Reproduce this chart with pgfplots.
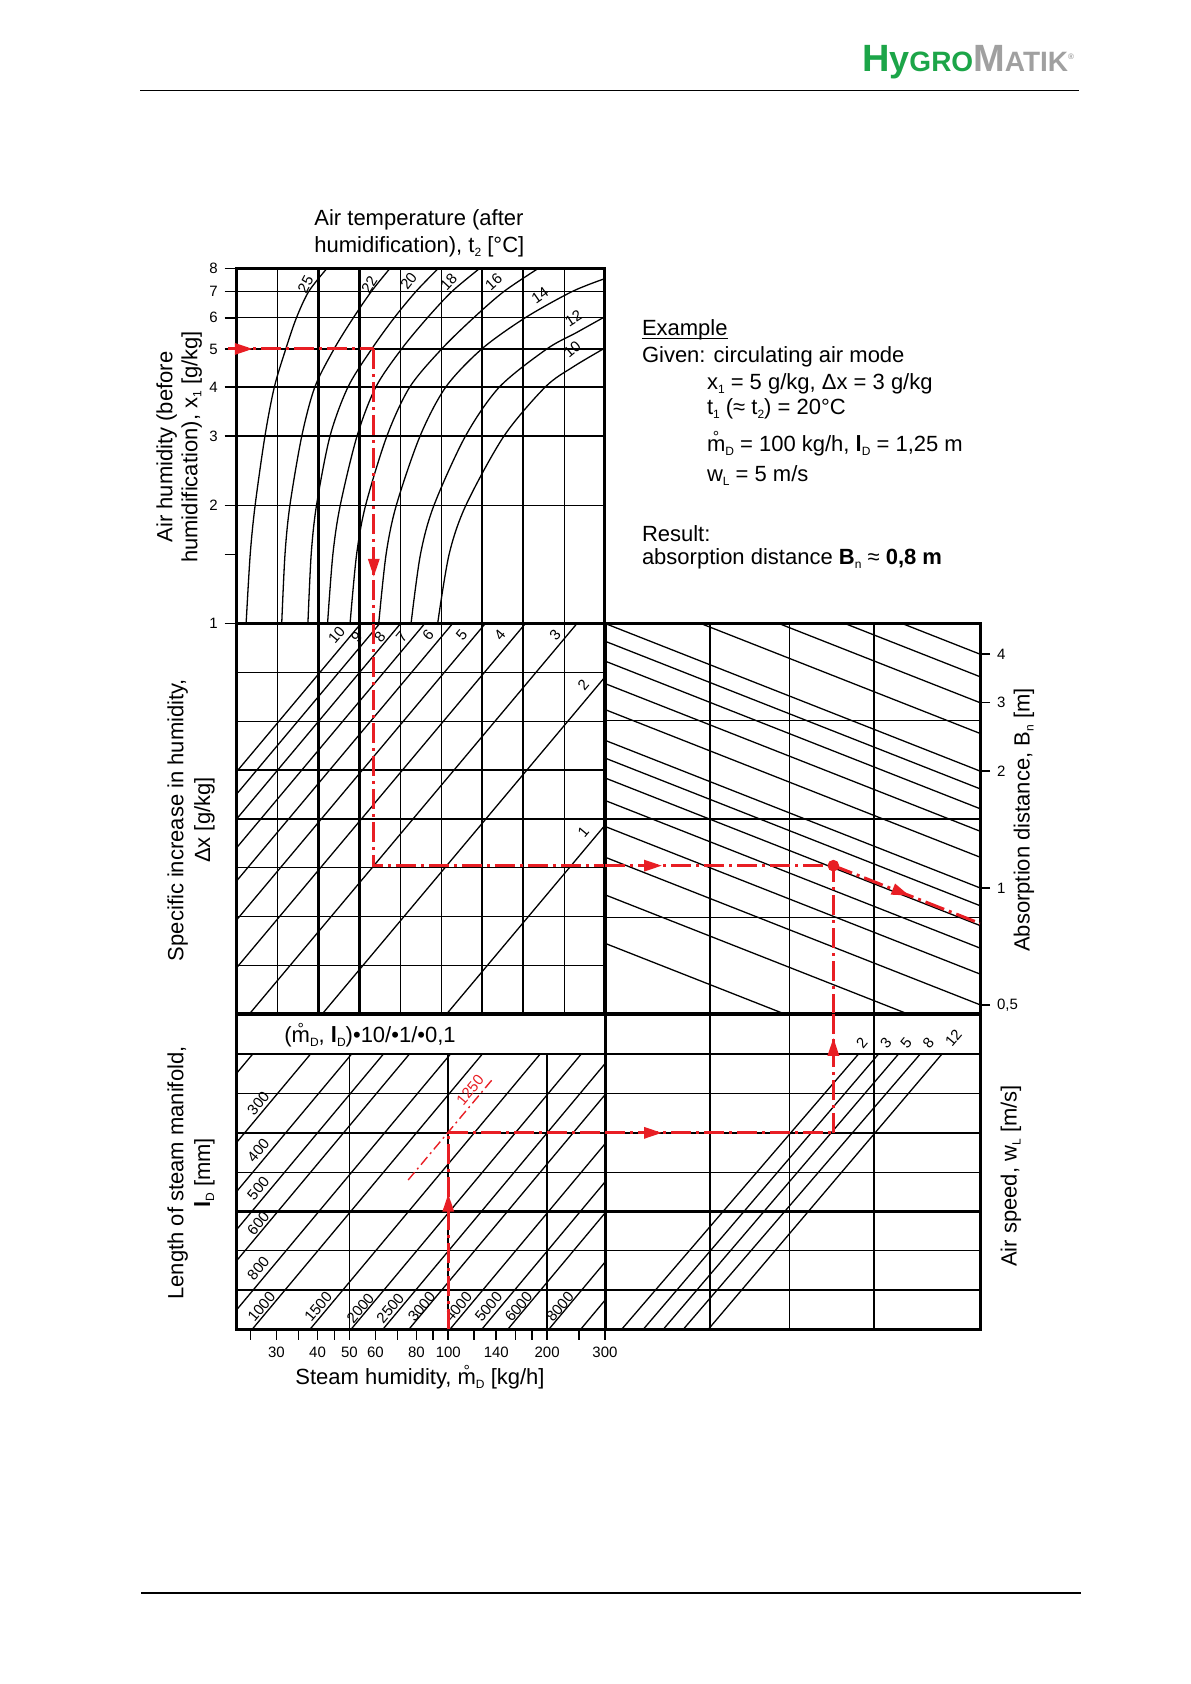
\documentclass[border=0pt]{standalone}
\usepackage{fontspec}
\setmainfont{Liberation Sans}
\usepackage{pgfplots}
\pgfplotsset{compat=1.18}
\usetikzlibrary{arrows.meta,decorations.markings}

\definecolor{nomred}{RGB}{232,30,36}
\definecolor{hgreen}{RGB}{28,165,72}
\definecolor{hgray}{RGB}{160,160,160}

\newcommand{\tickfont}{\fontsize{7.5}{9}\selectfont}
\newcommand{\labfont}{\fontsize{11}{13.4}\selectfont}
\newcommand{\sub}[1]{\raisebox{-2pt}{\fontsize{6}{6}\selectfont #1}}
\newcommand{\mring}{\ooalign{m\cr\hidewidth\raisebox{4.2pt}{\fontsize{8}{8}\selectfont °}\hidewidth\cr}}
\newcommand{\myul}[1]{\setbox0\hbox{#1}\rlap{\rule[-1.4pt]{\wd0}{0.6pt}}\box0}

\pgfplotsset{
  panel/.style={scale only axis, anchor=south west,
    axis line style={line width=1.5pt},
    xtick=\empty, ytick=\empty,
    tick style={line width=0.8pt, black},
    tick align=outside,
    ticklabel style={font=\tickfont}},
  gthin/.style={black, line width=0.5pt},
  gthick/.style={black, line width=1.1pt},
  iso/.style={black, line width=0.65pt},
  rpath/.style={nomred, line width=1.5pt, dash pattern=on 10pt off 2.5pt on 1.5pt off 2.5pt},
}
\tikzset{rarrow/.style={postaction={decorate},
  decoration={markings, mark=at position #1 with {\arrow{Triangle[length=9pt,width=5.5pt]}}}}}

\begin{document}
\begin{tikzpicture}
\path[use as bounding box] (0,0) rectangle (595pt,842pt);

% header and footer
\draw[line width=0.6pt] (70pt,796.8pt) -- (539.5pt,796.8pt);
\node[anchor=base west, inner sep=0] at (430.8pt,806.2pt) {\bfseries
  \color{hgreen}\fontsize{19}{19}\selectfont H\fontsize{18}{18}\selectfont y\fontsize{14}{14}\selectfont GRO%
  \color{hgray}\fontsize{19}{19}\selectfont M\fontsize{14}{14}\selectfont ATIK%
  \raisebox{6pt}{\fontsize{4}{4}\selectfont ®}};
\draw[line width=0.6pt] (70.5pt,45.5pt) -- (540.5pt,45.5pt);

% ---------- top left: x1 against t2 ----------
\begin{axis}[panel, at={(118.35pt,530.15pt)}, width=184.15pt, height=177.5pt,
  xmin=0, xmax=9, ymode=log, ymin=1, ymax=8, clip=false,
  ytick={1,1.5,2,3,4,5,6,7,8}, yticklabels={1,,2,3,4,5,6,7,8},
  ytick pos=left, major tick length=6pt]
\addplot[gthin] coordinates {(1,1)(1,8)};
\addplot[gthick] coordinates {(2,1)(2,8)};
\addplot[gthick] coordinates {(3,1)(3,8)};
\addplot[gthin] coordinates {(4,1)(4,8)};
\addplot[gthin] coordinates {(5,1)(5,8)};
\addplot[gthick] coordinates {(6,1)(6,8)};
\addplot[gthick] coordinates {(7,1)(7,8)};
\addplot[gthin] coordinates {(8,1)(8,8)};
\addplot[gthin] coordinates {(0,2)(9,2)};
\addplot[gthick] coordinates {(0,3)(9,3)};
\addplot[gthick] coordinates {(0,4)(9,4)};
\addplot[gthick] coordinates {(0,5)(9,5)};
\addplot[gthin] coordinates {(0,6)(9,6)};
\addplot[gthin] coordinates {(0,7)(9,7)};
% t2 curves
\addplot[iso, smooth] coordinates {(0.23,1)(0.33,1.5)(0.45,2)(0.69,3)(0.92,4)(1.2,5)(1.46,6)(1.76,7)(2.2,8)};
\addplot[iso, smooth] coordinates {(1.10,1)(1.18,1.5)(1.30,2)(1.59,3)(1.91,4)(2.38,5)(2.85,6)(3.29,7)(3.74,8)};
\addplot[iso, smooth] coordinates {(1.74,1)(1.82,1.5)(1.95,2)(2.28,3)(2.72,4)(3.30,5)(3.85,6)(4.38,7)(4.92,8)};
\addplot[iso, smooth] coordinates {(2.22,1)(2.35,1.5)(2.53,2)(2.94,3)(3.40,4)(4.03,5)(4.66,6)(5.26,7)(5.93,8)};
\addplot[iso, smooth] coordinates {(2.77,1)(2.93,1.5)(3.15,2)(3.67,3)(4.23,4)(5.01,5)(5.79,6)(6.53,7)(7.36,8)};
\addplot[iso, smooth] coordinates {(3.47,1)(3.65,1.5)(3.90,2)(4.48,3)(5.11,4)(5.99,5)(7.05,6)(8.2,7)(9.0,7.55)};
\addplot[iso, smooth] coordinates {(4.26,1)(4.49,1.5)(4.82,2)(5.59,3)(6.42,4)(7.58,5)(8.3,5.5)(9.0,6.04)};
\addplot[iso, smooth] coordinates {(4.91,1)(5.19,1.5)(5.60,2)(6.53,3)(7.54,4)(8.22,4.5)(8.96,5)};
\node[rotate=62, font=\tickfont, inner sep=0] at (axis cs:1.68,7.30) {25};
\node[rotate=58, font=\tickfont, inner sep=0] at (axis cs:3.24,7.30) {22};
\node[rotate=52, font=\tickfont, inner sep=0] at (axis cs:4.20,7.45) {20};
\node[rotate=47, font=\tickfont, inner sep=0] at (axis cs:5.18,7.41) {18};
\node[rotate=42, font=\tickfont, inner sep=0] at (axis cs:6.28,7.41) {16};
\node[rotate=35, font=\tickfont, inner sep=0] at (axis cs:7.41,6.85) {14};
\node[rotate=33, font=\tickfont, inner sep=0] at (axis cs:8.23,5.98) {12};
\node[rotate=40, font=\tickfont, inner sep=0] at (axis cs:8.20,4.98) {10};
% example path
\addplot[rpath, rarrow=0.17] coordinates {(-0.21,5)(3.35,5)};
\addplot[rpath, rarrow=0.83] coordinates {(3.35,5)(3.35,1)};
\end{axis}

% ---------- middle left: delta x ----------
\begin{axis}[panel, at={(118.35pt,335pt)}, width=184.15pt, height=195.1pt,
  xmin=0, xmax=9, ymin=0, ymax=8]
\addplot[gthin] coordinates {(1,0)(1,8)};
\addplot[gthick] coordinates {(2,0)(2,8)};
\addplot[gthick] coordinates {(3,0)(3,8)};
\addplot[gthin] coordinates {(4,0)(4,8)};
\addplot[gthin] coordinates {(5,0)(5,8)};
\addplot[gthick] coordinates {(6,0)(6,8)};
\addplot[gthick] coordinates {(7,0)(7,8)};
\addplot[gthin] coordinates {(8,0)(8,8)};
\addplot[gthin] coordinates {(0,1)(9,1)};
\addplot[gthin] coordinates {(0,2)(9,2)};
\addplot[gthin] coordinates {(0,3)(9,3)};
\addplot[gthick] coordinates {(0,4)(9,4)};
\addplot[gthick] coordinates {(0,5)(9,5)};
\addplot[gthin] coordinates {(0,6)(9,6)};
\addplot[gthin] coordinates {(0,7)(9,7)};
\addplot[iso] coordinates {(5.13,0)(9,3.87)};
\addplot[iso] coordinates {(2.09,0)(9,6.91)};
\addplot[iso] coordinates {(0.31,0)(8.31,8)};
\addplot[iso] coordinates {(0,0.95)(7.05,8)};
\addplot[iso] coordinates {(0,1.93)(6.07,8)};
\addplot[iso] coordinates {(0,2.73)(5.27,8)};
\addplot[iso] coordinates {(0,3.41)(4.59,8)};
\addplot[iso] coordinates {(0,4.00)(4.00,8)};
\addplot[iso] coordinates {(0,4.51)(3.49,8)};
\addplot[iso] coordinates {(0,4.97)(3.03,8)};
\node[rotate=50, font=\tickfont, inner sep=0] at (axis cs:2.44,7.77) {10};
\node[rotate=50, font=\tickfont, inner sep=0] at (axis cs:2.93,7.73) {9};
\node[rotate=50, font=\tickfont, inner sep=0] at (axis cs:3.50,7.73) {8};
\node[rotate=50, font=\tickfont, inner sep=0] at (axis cs:4.03,7.73) {7};
\node[rotate=50, font=\tickfont, inner sep=0] at (axis cs:4.68,7.77) {6};
\node[rotate=50, font=\tickfont, inner sep=0] at (axis cs:5.50,7.77) {5};
\node[rotate=50, font=\tickfont, inner sep=0] at (axis cs:6.43,7.77) {4};
\node[rotate=50, font=\tickfont, inner sep=0] at (axis cs:7.78,7.77) {3};
\node[rotate=50, font=\tickfont, inner sep=0] at (axis cs:8.47,6.74) {2};
\node[rotate=50, font=\tickfont, inner sep=0] at (axis cs:8.47,3.74) {1};
\addplot[rpath] coordinates {(3.35,8)(3.35,3.04)(9,3.04)};
\end{axis}

% ---------- middle right: absorption distance ----------
\begin{axis}[panel, at={(302.5pt,335pt)}, width=187.5pt, height=195.1pt,
  xmin=0, xmax=10, ymode=log, ymin=0.4734, ymax=4.79,
  ytick={0.5,1,2,3,4}, yticklabels={{0,5},1,2,3,4},
  ytick pos=right, major tick length=5pt]
\addplot[gthick] coordinates {(2.8,0.4734)(2.8,4.79)};
\addplot[gthin] coordinates {(4.93,0.4734)(4.93,4.79)};
\addplot[gthick] coordinates {(7.17,0.4734)(7.17,4.79)};
\addplot[gthin] coordinates {(0,2.703)(10,2.703)};
\addplot[gthick] coordinates {(0,1.505)(10,1.505)};
\addplot[gthin] coordinates {(0,0.8366)(10,0.8366)};
\addplot[iso] coordinates {(0,0.72)(10,0.3)};
\addplot[iso] coordinates {(0,0.96)(10,0.4)};
\addplot[iso] coordinates {(0,1.2)(10,0.5)};
\addplot[iso] coordinates {(0,1.44)(10,0.6)};
\addplot[iso] coordinates {(0,1.68)(10,0.7)};
\addplot[iso] coordinates {(0,1.92)(10,0.8)};
\addplot[iso] coordinates {(0,2.16)(10,0.9)};
\addplot[iso] coordinates {(0,2.4)(10,1.0)};
\addplot[iso] coordinates {(0,2.88)(10,1.2)};
\addplot[iso] coordinates {(0,3.36)(10,1.4)};
\addplot[iso] coordinates {(0,3.84)(10,1.6)};
\addplot[iso] coordinates {(0,4.32)(10,1.8)};
\addplot[iso] coordinates {(0,4.8)(10,2.0)};
\addplot[iso] coordinates {(0,6.0)(10,2.5)};
\addplot[iso] coordinates {(0,7.2)(10,3.0)};
\addplot[iso] coordinates {(0,8.4)(10,3.5)};
\addplot[iso] coordinates {(0,9.6)(10,4.0)};
\addplot[rpath, rarrow=0.25] coordinates {(0,1.141)(6.09,1.141)};
\addplot[rpath, rarrow=0.52] coordinates {(6.09,1.141)(10,0.810)};
\addplot[rpath] coordinates {(6.09,0.4734)(6.09,1.141)};
\addplot[only marks, mark=*, mark size=2.7pt, nomred] coordinates {(6.09,1.141)};
\end{axis}

% ---------- bottom left: steam manifold ----------
\begin{axis}[panel, at={(118.35pt,177.35pt)}, width=184.15pt, height=157.65pt,
  xmode=log, xmin=22.7, xmax=300, ymin=0, ymax=8.025,
  xtick={25,30,35,40,45,50,60,70,80,90,100,120,140,160,180,200,250,300},
  xticklabels={,30,,40,,50,60,,80,,100,,140,,,200,,300},
  xtick pos=left, major tick length=5.3pt]
\addplot[gthin] coordinates {(50,0)(50,7)};
\addplot[gthick] coordinates {(100,0)(100,7)};
\addplot[gthick] coordinates {(200,0)(200,7)};
\addplot[gthick] coordinates {(22.7,1)(300,1)};
\addplot[gthin] coordinates {(22.7,2)(300,2)};
\addplot[gthick] coordinates {(22.7,3)(300,3)};
\addplot[gthin] coordinates {(22.7,4)(300,4)};
\addplot[gthick] coordinates {(22.7,5)(300,5)};
\addplot[gthin] coordinates {(22.7,6)(300,6)};
\addplot[gthick] coordinates {(22.7,7)(300,7)};
\addplot[iso] coordinates {(5.06,0)(25.36,7)};
\addplot[iso] coordinates {(7.59,0)(38.04,7)};
\addplot[iso] coordinates {(10.12,0)(50.72,7)};
\addplot[iso] coordinates {(12.65,0)(63.4,7)};
\addplot[iso] coordinates {(15.18,0)(76.08,7)};
\addplot[iso] coordinates {(20.24,0)(101.44,7)};
\addplot[iso] coordinates {(25.3,0)(126.8,7)};
\addplot[iso] coordinates {(37.95,0)(190.2,7)};
\addplot[iso] coordinates {(50.6,0)(253.6,7)};
\addplot[iso] coordinates {(63.25,0)(317,7)};
\addplot[iso] coordinates {(75.9,0)(380.4,7)};
\addplot[iso] coordinates {(101.2,0)(507.2,7)};
\addplot[iso] coordinates {(126.5,0)(634,7)};
\addplot[iso] coordinates {(151.8,0)(760.8,7)};
\addplot[iso] coordinates {(202.4,0)(1014.4,7)};
\addplot[iso] coordinates {(253,0)(1268,7)};
\node[rotate=50, font=\tickfont, inner sep=0] at (axis cs:26.4,5.75) {300};
\node[rotate=50, font=\tickfont, inner sep=0] at (axis cs:26.4,4.56) {400};
\node[rotate=50, font=\tickfont, inner sep=0] at (axis cs:26.4,3.59) {500};
\node[rotate=50, font=\tickfont, inner sep=0] at (axis cs:26.4,2.70) {600};
\node[rotate=50, font=\tickfont, inner sep=0] at (axis cs:26.4,1.55) {800};
\node[rotate=50, font=\tickfont, inner sep=0] at (axis cs:27.0,0.575) {1000};
\node[rotate=50, font=\tickfont, inner sep=0] at (axis cs:40.2,0.575) {1500};
\node[rotate=50, font=\tickfont, inner sep=0] at (axis cs:54.0,0.535) {2000};
\node[rotate=50, font=\tickfont, inner sep=0] at (axis cs:66.6,0.535) {2500};
\node[rotate=50, font=\tickfont, inner sep=0] at (axis cs:83.0,0.575) {3000};
\node[rotate=50, font=\tickfont, inner sep=0] at (axis cs:107.3,0.575) {4000};
\node[rotate=50, font=\tickfont, inner sep=0] at (axis cs:132.6,0.575) {5000};
\node[rotate=50, font=\tickfont, inner sep=0] at (axis cs:163.8,0.575) {6000};
\node[rotate=50, font=\tickfont, inner sep=0] at (axis cs:218.8,0.575) {8000};
\node[font=\labfont, anchor=base] at (axis cs:57.8,7.3) {(\mring\sub{D}, \textbf{l}\sub{D})•10/•1/•0,1};
\addplot[nomred, line width=0.7pt, dash pattern=on 5pt off 2pt on 1pt off 2pt] coordinates {(75.5,3.8)(135.6,6.34)};
\node[rotate=50, font=\tickfont, inner sep=0, text=nomred] at (axis cs:116.5,6.09) {1250};
\addplot[rpath, rarrow=0.69] coordinates {(100,0)(100,5)};
\addplot[rpath] coordinates {(100,5)(300,5)};
\end{axis}

% ---------- bottom right: air speed ----------
\begin{axis}[panel, at={(302.5pt,177.35pt)}, width=187.5pt, height=157.65pt,
  xmin=0, xmax=10, ymin=0, ymax=8.025]
\addplot[gthick] coordinates {(2.8,0)(2.8,8.025)};
\addplot[gthin] coordinates {(4.93,0)(4.93,8.025)};
\addplot[gthick] coordinates {(7.17,0)(7.17,8.025)};
\addplot[gthick] coordinates {(0,1)(10,1)};
\addplot[gthin] coordinates {(0,2)(10,2)};
\addplot[gthick] coordinates {(0,3)(10,3)};
\addplot[gthin] coordinates {(0,4)(10,4)};
\addplot[gthick] coordinates {(0,5)(10,5)};
\addplot[gthin] coordinates {(0,6)(10,6)};
\addplot[gthick] coordinates {(0,7)(10,7)};
\addplot[iso] coordinates {(0.445,0)(6.755,7)};
\addplot[iso] coordinates {(1.021,0)(7.288,7)};
\addplot[iso] coordinates {(1.555,0)(7.821,7)};
\addplot[iso] coordinates {(2.088,0)(8.40,7)};
\addplot[iso] coordinates {(2.755,0)(8.979,7)};
\node[rotate=50, font=\tickfont, inner sep=0] at (axis cs:6.85,7.29) {2};
\node[rotate=50, font=\tickfont, inner sep=0] at (axis cs:7.49,7.29) {3};
\node[rotate=50, font=\tickfont, inner sep=0] at (axis cs:8.03,7.29) {5};
\node[rotate=50, font=\tickfont, inner sep=0] at (axis cs:8.62,7.29) {8};
\node[rotate=50, font=\tickfont, inner sep=0] at (axis cs:9.29,7.41) {12};
\addplot[rpath, rarrow=0.25] coordinates {(0,5)(6.09,5)};
\addplot[rpath, rarrow=0.80] coordinates {(6.09,5)(6.09,8.025)};
\end{axis}

% ---------- axis titles ----------
\node[anchor=base west, inner sep=0, font=\labfont] at (157pt,729pt) {Air temperature (after};
\node[anchor=base west, inner sep=0, font=\labfont] at (157pt,715.5pt) {humidification), t\sub{2} [°C]};
\node[rotate=90, align=center, font=\fontsize{11}{12.4}\selectfont] at (89.6pt,618.5pt)
  {Air humidity (before\\humidification), x\sub{1} [g/kg]};
\node[rotate=90, align=center, font=\fontsize{11}{13.4}\selectfont] at (95.5pt,432pt)
  {Specific increase in humidity,\\Δx [g/kg]};
\node[rotate=90, align=center, font=\fontsize{11}{13.4}\selectfont] at (95.5pt,255.5pt)
  {Length of steam manifold,\\\textbf{l}\sub{D} [mm]};
\node[rotate=90, font=\labfont] at (512pt,432pt) {Absorption distance, B\sub{n} [m]};
\node[rotate=90, font=\labfont] at (505.5pt,254pt) {Air speed, w\sub{L} [m/s]};
\node[anchor=base, inner sep=0, font=\labfont] at (210pt,149.5pt) {Steam humidity, \mring\sub{D} [kg/h]};

% ---------- example ----------
\node[anchor=base west, inner sep=0, font=\labfont] at (320.8pt,674pt) {\myul{Example}};
\node[anchor=base west, inner sep=0, font=\labfont] at (320.8pt,660.5pt) {Given: circulating air mode};
\node[anchor=base west, inner sep=0, font=\labfont] at (353.3pt,647.2pt) {x\sub{1} = 5 g/kg, Δx = 3 g/kg};
\node[anchor=base west, inner sep=0, font=\labfont] at (353.3pt,634.7pt) {t\sub{1} (≈ t\sub{2}) = 20°C};
\node[anchor=base west, inner sep=0, font=\labfont] at (353.3pt,616.3pt) {\mring\sub{D} = 100 kg/h, \textbf{l}\sub{D} = 1,25 m};
\node[anchor=base west, inner sep=0, font=\labfont] at (353.3pt,601.3pt) {w\sub{L} = 5 m/s};
\node[anchor=base west, inner sep=0, font=\labfont] at (320.8pt,571.3pt) {Result:};
\node[anchor=base west, inner sep=0, font=\labfont] at (320.8pt,559.7pt) {absorption distance \textbf{B}\sub{n} ≈ \textbf{0,8 m}};
\end{tikzpicture}
\end{document}
